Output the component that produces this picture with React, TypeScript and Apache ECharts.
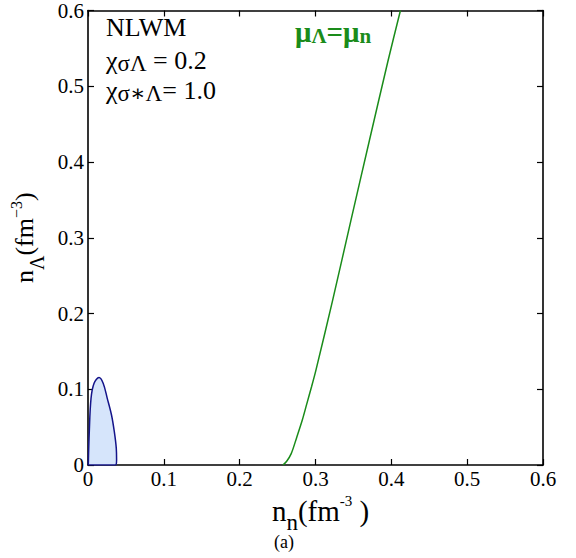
import React, { useEffect, useRef } from 'react';
import * as echarts from 'echarts';

const xTickLabels = ['0', '0.1', '0.2', '0.3', '0.4', '0.5', '0.6'];
const yTickLabels = ['0', '0.1', '0.2', '0.3', '0.4', '0.5', '0.6'];

// closed region (blue)
const regionNn = [0.0004, 0.0017, 0.004, 0.008, 0.0145, 0.020, 0.0254, 0.031, 0.0347, 0.0373, 0.0377, 0.036, 0.0004];
const regionNl = [0.0, 0.044, 0.088, 0.108, 0.1154, 0.108, 0.088, 0.066, 0.044, 0.022, 0.0066, 0.0, 0.0];

// mu_Lambda = mu_n curve (green)
const muNn = [0.257, 0.262, 0.268, 0.2754, 0.2825, 0.2886, 0.2947, 0.3005, 0.3225, 0.3465, 0.371, 0.3955, 0.412];
const muNl = [0.0, 0.005, 0.015, 0.037, 0.059, 0.081, 0.103, 0.125, 0.217, 0.322, 0.428, 0.533, 0.6];

const FONT = "'Liberation Serif', 'DejaVu Serif', serif";

export default function App() {
  const ref = useRef<HTMLDivElement>(null);
  useEffect(() => {
    if (!ref.current) return;
    const chart = echarts.init(ref.current, undefined, { renderer: 'svg' });
    const fmtX = (v: number) => xTickLabels[Math.round(v / 0.1)] ?? '';
    const fmtY = (v: number) => yTickLabels[Math.round(v / 0.1)] ?? '';
    const axisLine = { show: true, onZero: false, lineStyle: { color: '#000', width: 1.6 } };
    const axisTick = { show: true, inside: true, length: 6, lineStyle: { color: '#000', width: 1.2 } };
    const xNameRich = {
      a: { fontFamily: FONT, fontSize: 29, color: '#000', lineHeight: 34 },
      sub: { fontFamily: FONT, fontSize: 23, color: '#000', verticalAlign: 'bottom', lineHeight: 22, padding: [0, 0, -6, 0] },
      sup: { fontFamily: FONT, fontSize: 15, color: '#000', verticalAlign: 'top', lineHeight: 15 },
    };
    const yNameRich = {
      a: { fontFamily: FONT, fontSize: 26, color: '#000', lineHeight: 32 },
      sub: { fontFamily: FONT, fontSize: 20, color: '#000', verticalAlign: 'bottom', lineHeight: 20, padding: [0, 0, -6, 0] },
      sup: { fontFamily: FONT, fontSize: 16, color: '#000', verticalAlign: 'top', lineHeight: 15 },
    };
    const annRich = {
      a: { fontFamily: FONT, fontSize: 26, fill: '#000', lineHeight: 30 },
      b: { fontFamily: FONT, fontSize: 23, fill: '#000', lineHeight: 30, verticalAlign: 'bottom' },
    };
    const option: any = {
      animation: false,
      textStyle: { fontFamily: FONT },
      grid: { left: 88, right: 33, top: 9, bottom: 93, containLabel: false },
      xAxis: [
        {
          type: 'value', min: 0, max: 0.6, interval: 0.1, position: 'bottom',
          axisLine, axisTick, splitLine: { show: false },
          axisLabel: { formatter: fmtX, fontFamily: FONT, fontSize: 21, color: '#000', margin: 3, showMinLabel: true, showMaxLabel: true },
          name: '{a|n}{sub|n}{a|(fm}{sup|-3}{a| )}',
          nameLocation: 'middle', nameGap: 13,
          nameTextStyle: { fontFamily: FONT, rich: xNameRich, padding: [0, 0, 0, 10] },
        },
        {
          type: 'value', min: 0, max: 0.6, interval: 0.1, position: 'top',
          axisLine, axisTick, splitLine: { show: false }, axisLabel: { show: false },
        },
      ],
      yAxis: [
        {
          type: 'value', min: 0, max: 0.6, interval: 0.1, position: 'left',
          axisLine, axisTick, splitLine: { show: false },
          axisLabel: { formatter: fmtY, fontFamily: FONT, fontSize: 21, color: '#000', margin: 4, showMinLabel: true, showMaxLabel: true },
          name: '{a|n}{sub|Λ}{a|(fm}{sup|−3}{a|)}',
          nameLocation: 'middle', nameGap: 42, nameRotate: 90,
          nameTextStyle: { fontFamily: FONT, rich: yNameRich },
        },
        {
          type: 'value', min: 0, max: 0.6, interval: 0.1, position: 'right',
          axisLine, axisTick, splitLine: { show: false }, axisLabel: { show: false },
        },
      ],
      series: [
        {
          type: 'line',
          data: regionNn.map((x, i) => [x, regionNl[i]]),
          smooth: 0.35,
          showSymbol: false,
          lineStyle: { color: '#14148a', width: 1.5 },
          areaStyle: { color: '#d6e5fb', opacity: 1 },
          z: 2,
        },
        {
          type: 'line',
          data: muNn.map((x, i) => [x, muNl[i]]),
          smooth: 0.3,
          showSymbol: false,
          lineStyle: { color: '#1a8c1a', width: 1.5 },
          z: 3,
        },
      ],
      graphic: [
        {
          type: 'text', left: 106, top: 14,
          style: { text: 'NLWM', fontFamily: FONT, fontSize: 26, fill: '#000' },
        },
        {
          type: 'text', left: 106, top: 47,
          style: { text: '{a|χ}{b|σΛ}{a| = 0.2}', rich: annRich },
        },
        {
          type: 'text', left: 106, top: 77,
          style: { text: '{a|χ}{b|σ∗Λ}{a|= 1.0}', rich: annRich },
        },
        {
          type: 'text', left: 295, top: 17,
          style: {
            text: '{a|μ}{b|Λ}{a|=μ}{b|n}',
            rich: {
              a: { fontFamily: FONT, fontSize: 29, fontWeight: 'bold', fill: '#1a8c1a', lineHeight: 30 },
              b: { fontFamily: FONT, fontSize: 21, fontWeight: 'bold', fill: '#1a8c1a', lineHeight: 19, verticalAlign: 'bottom' },
            },
          },
        },
        {
          type: 'text', left: 274, top: 533,
          style: { text: '(a)', fontFamily: FONT, fontSize: 18, fill: '#000' },
        },
      ],
    };
    chart.setOption(option);
    return () => chart.dispose();
  }, []);
  return <div ref={ref} style={{ position: 'absolute', left: 0, top: 0, width: 576, height: 558 }} />;
}
